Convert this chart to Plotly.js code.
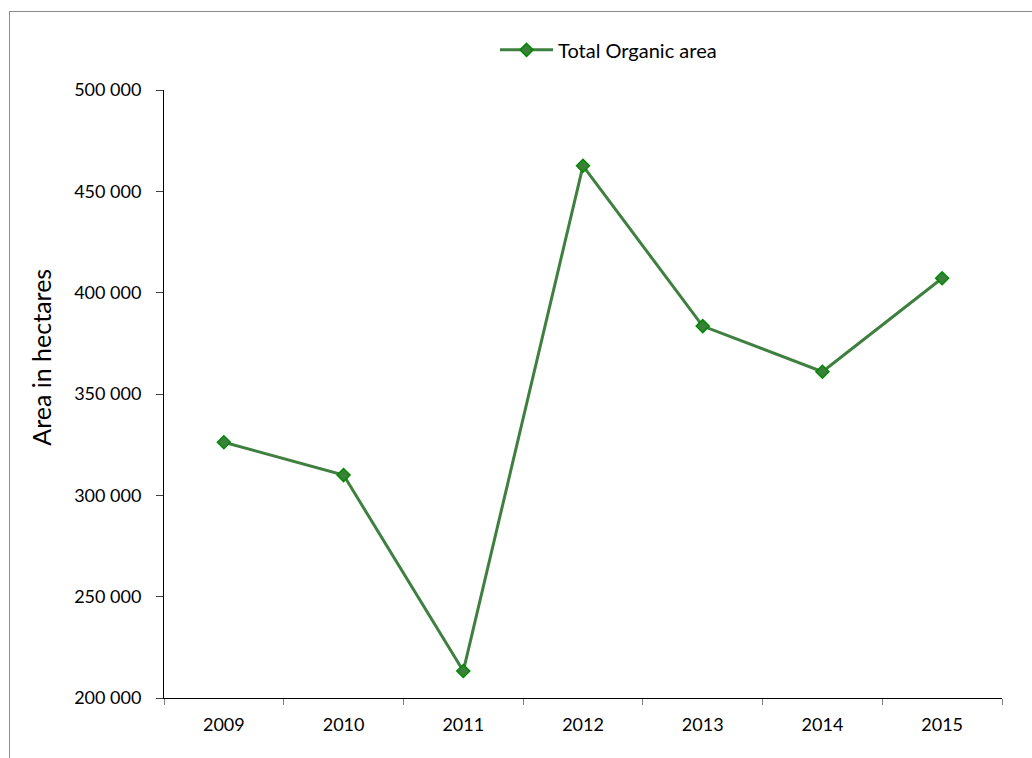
<!DOCTYPE html>
<html>
<head>
<meta charset="utf-8">
<script src="https://cdn.plot.ly/plotly-3.0.1.min.js"></script>
<style>
  html, body { margin: 0; padding: 0; background: #fff; overflow: hidden; }
  #chart { position: absolute; left: 0; top: 0; width: 1032px; height: 758px; }
  #frame { position: absolute; left: 9px; top: 11px; width: 1100px; height: 800px;
           border-left: 1px solid #8c8c8c; border-top: 1px solid #8c8c8c; pointer-events: none; }
</style>
</head>
<body>
<div id="chart"></div>
<div id="frame"></div>
<script>
// Organic farming area per year
const years = ['2009', '2010', '2011', '2012', '2013', '2014', '2015'];
const organicArea = [326200, 310000, 213300, 462600, 383500, 361000, 407100];
const seriesName = 'Total Organic area';
const yTickValues = [200000, 250000, 300000, 350000, 400000, 450000, 500000];
const yTickLabels = ['200 000', '250 000', '300 000', '350 000', '400 000', '450 000', '500 000'];
const yTitle = 'Area in hectares';

const font = 'Lato, "Open Sans", sans-serif';

const trace = {
  x: years,
  y: organicArea,
  name: seriesName,
  type: 'scatter',
  mode: 'lines+markers',
  line: { color: '#3f8040', width: 3 },
  marker: { symbol: 'diamond', size: 10, color: '#3a7f3a', line: { color: '#008a00', width: 1.5 } },
  showlegend: true
};

const layout = {
  width: 1032,
  height: 758,
  paper_bgcolor: '#ffffff',
  plot_bgcolor: '#ffffff',
  margin: { l: 164, r: 30, t: 90, b: 60 },
  font: { family: font, size: 18, color: '#000' },
  showlegend: true,
  legend: {
    orientation: 'h',
    x: 0.395, xanchor: 'left',
    y: 1.066, yanchor: 'middle',
    font: { family: font, size: 20, color: '#000' },
    itemwidth: 53,
    bgcolor: 'rgba(0,0,0,0)'
  },
  xaxis: {
    type: 'category',
    range: [-0.5, 6.5],
    showline: true, linecolor: '#000', linewidth: 1,
    showgrid: false, zeroline: false,
    ticks: 'outside', ticklen: 6, tickcolor: '#808080', tickwidth: 1,
    tickson: 'boundaries',
    ticklabelstandoff: 10,
    tickfont: { family: font, size: 18, color: '#000' },
    fixedrange: true
  },
  yaxis: {
    range: [200000, 500000],
    tickvals: yTickValues,
    ticktext: yTickLabels,
    showline: true, linecolor: '#000', linewidth: 1,
    showgrid: false, zeroline: false,
    ticks: 'outside', ticklen: 7, tickcolor: '#404040', tickwidth: 1,
    ticklabelstandoff: 11,
    tickfont: { family: font, size: 18, color: '#000' },
    fixedrange: true
  },
  annotations: [{
    text: yTitle,
    xref: 'paper', yref: 'paper',
    x: -0.147, y: 0.561,
    xanchor: 'center', yanchor: 'middle',
    textangle: -90,
    showarrow: false,
    font: { family: font, size: 25, color: '#000' }
  }]
};

Plotly.newPlot('chart', [trace], layout, { staticPlot: true, displayModeBar: false });
</script>
</body>
</html>
